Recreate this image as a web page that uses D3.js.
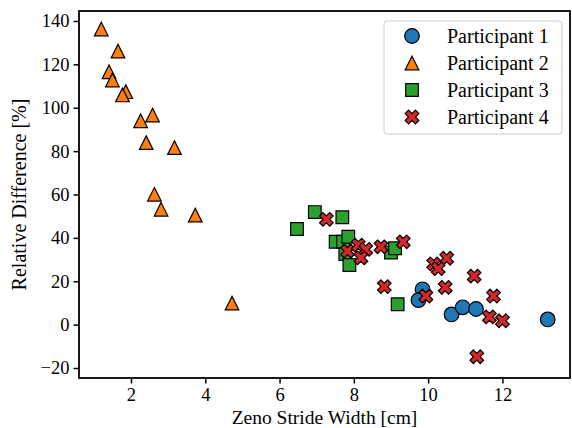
<!DOCTYPE html>
<html>
<head>
<meta charset="utf-8">
<script src="https://cdn.jsdelivr.net/npm/d3@7"></script>
<style>
  body { margin: 0; background: #fff; }
  text { font-family: "Liberation Serif", "Times New Roman", serif; fill: #000; }
</style>
</head>
<body>
<svg id="chart"></svg>
<script>
//------ Données ------
var p1x = [9.85, 9.74, 10.63, 10.93, 11.29, 13.22];
var p1y = [16.3, 11.3, 4.7, 8.0, 7.2, 2.4];

var p2x = [1.2, 1.65, 1.41, 1.50, 1.86, 1.77, 2.58, 2.26, 2.41, 3.17, 2.63, 2.81, 3.73, 4.72];
var p2y = [136.3, 126.1, 116.6, 112.8, 107.4, 105.9, 96.6, 94.0, 83.9, 81.6, 60.1, 53.2, 50.5, 9.9];

var p3x = [6.95, 7.69, 6.47, 7.51, 7.71, 7.85, 7.77, 7.88, 9.0, 9.11, 9.18];
var p3y = [51.9, 49.5, 44.1, 38.2, 38.2, 40.5, 32.5, 27.5, 33.2, 35.2, 9.4];

var p4x = [7.26, 7.83, 8.12, 8.32, 8.19, 8.73, 9.33, 10.5, 10.15, 10.27, 11.24, 8.82, 9.94, 10.46, 11.76, 11.65, 12.0, 11.31];
var p4y = [48.5, 33.9, 36.7, 34.7, 30.8, 35.9, 38.2, 30.6, 28.0, 25.8, 22.4, 17.5, 13.2, 17.2, 13.2, 3.6, 1.8, -14.8];

var labels = ["Participant 1", "Participant 2", "Participant 3", "Participant 4"];
var xTicks = [2, 4, 6, 8, 10, 12];
var yTicks = [-20, 0, 20, 40, 60, 80, 100, 120, 140];
var xLimits = [0.6, 13.82];
var yLimits = [-24.6, 144.6];

//------ Rendre le graphique ------
var width = 572, height = 428;
var margin = {top: 11, right: 2, bottom: 50, left: 79};
var fontSize = 20,
    tickFontSize = 18.5;

var svg = d3.select("#chart")
    .attr("width", width)
    .attr("height", height);

var x = d3.scaleLinear().domain(xLimits).range([margin.left, width - margin.right]);
var y = d3.scaleLinear().domain(yLimits).range([height - margin.bottom, margin.top]);

// formes des marqueurs (comme matplotlib), taille en px
var ms = 13.6;
function circlePath(s) { return d3.symbol(d3.symbolCircle, Math.PI * (s / 2) * (s / 2))(); }
function trianglePath(s) { var h = s / 2; return "M0," + (-h) + "L" + h + "," + h + "L" + (-h) + "," + h + "Z"; }
function squarePath(s) { var h = s / 2 * 0.93; return "M" + (-h) + "," + (-h) + "H" + h + "V" + h + "H" + (-h) + "Z"; }
function xPath(s) {
    var pts = [[-1, -2], [0, -1], [1, -2], [2, -1], [1, 0], [2, 1], [1, 2], [0, 1], [-1, 2], [-2, 1], [-1, 0], [-2, -1]];
    return "M" + pts.map(p => [p[0] * s / 4, p[1] * s / 4].join(",")).join("L") + "Z";
}

var series = [
    {xs: p1x, ys: p1y, color: "#1f77b4", shape: circlePath(ms + 1)},
    {xs: p2x, ys: p2y, color: "#ff7f0e", shape: trianglePath(ms)},
    {xs: p3x, ys: p3y, color: "#2ca02c", shape: squarePath(ms)},
    {xs: p4x, ys: p4y, color: "#d62728", shape: xPath(ms)}
];

// points
series.forEach(function (s) {
    svg.append("g").selectAll("path")
        .data(s.xs.map((v, i) => [v, s.ys[i]]))
        .enter()
        .append("path")
        .attr("d", s.shape)
        .attr("transform", d => "translate(" + x(d[0]) + "," + y(d[1]) + ")")
        .attr("fill", s.color)
        .attr("stroke", "#000")
        .attr("stroke-width", 1.2);
});

// cadre
svg.append("rect")
    .attr("x", margin.left)
    .attr("y", margin.top)
    .attr("width", width - margin.left - margin.right)
    .attr("height", height - margin.top - margin.bottom)
    .attr("fill", "none")
    .attr("stroke", "#000")
    .attr("stroke-width", 1.8);

// axes
var xAxis = svg.append("g")
    .attr("transform", "translate(0," + (height - margin.bottom) + ")")
    .call(d3.axisBottom(x).tickValues(xTicks).tickSize(5.5).tickPadding(4).tickFormat(d3.format("d")));
var yAxis = svg.append("g")
    .attr("transform", "translate(" + margin.left + ",0)")
    .call(d3.axisLeft(y).tickValues(yTicks).tickSize(5.5).tickPadding(4).tickFormat(d => d < 0 ? "\u2212" + Math.abs(d) : d));

[xAxis, yAxis].forEach(function (a) {
    a.select(".domain").remove();
    a.selectAll(".tick line").attr("stroke", "#000").attr("stroke-width", 1.5);
    a.selectAll(".tick text").attr("font-size", tickFontSize).attr("font-family", null).attr("fill", "#000");
});

// titres des axes
svg.append("text")
    .attr("x", (margin.left + width - margin.right) / 2)
    .attr("y", 424)
    .attr("text-anchor", "middle")
    .attr("font-size", 19.5)
    .text("Zeno Stride Width [cm]");

svg.append("text")
    .attr("transform", "translate(26," + ((margin.top + height - margin.bottom) / 2) + ") rotate(-90)")
    .attr("text-anchor", "middle")
    .attr("font-size", fontSize)
    .text("Relative Difference [%]");

// légende
var legend = svg.append("g");
legend.append("rect")
    .attr("x", 384).attr("y", 21)
    .attr("width", 178).attr("height", 113)
    .attr("rx", 3)
    .attr("fill", "#fff").attr("fill-opacity", 0.8)
    .attr("stroke", "#ccc").attr("stroke-width", 1);

var rows = legend.selectAll("g.row")
    .data(series)
    .enter()
    .append("g")
    .attr("class", "row")
    .attr("transform", (d, i) => "translate(412," + (36 + i * 27) + ")");

rows.append("path")
    .attr("d", d => d.shape)
    .attr("fill", d => d.color)
    .attr("stroke", "#000")
    .attr("stroke-width", 1.2);

rows.append("text")
    .attr("x", 35)
    .attr("dy", "0.33em")
    .attr("font-size", fontSize)
    .text((d, i) => labels[i]);
</script>
</body>
</html>
